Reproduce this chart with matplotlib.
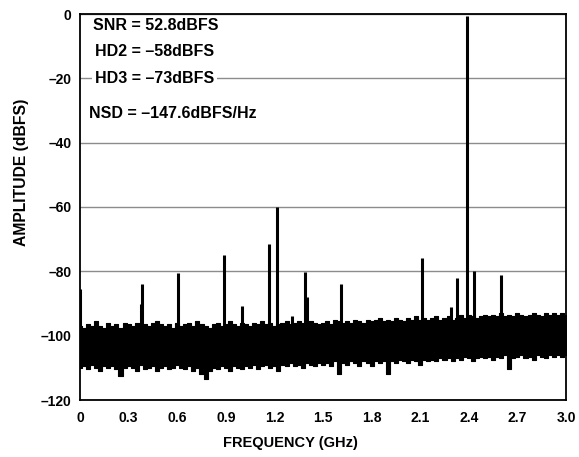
import matplotlib.pyplot as plt
import numpy as np
from matplotlib.ticker import FuncFormatter

# Noise floor envelopes, every 0.025 GHz (dBFS)
FREQ_STEP = 0.025
NOISE_TOP = [
    -97, -97.5, -96.5, -97, -95.5, -97, -97.5, -96, -97, -96.5,
    -97.5, -96, -96.5, -97, -96, -97.5, -96.5, -97, -96, -95.5,
    -96.5, -97, -96.5, -97.5, -96, -97, -96.5, -96, -97, -95.5,
    -96.5, -97, -97.5, -96.5, -96, -97, -96.5, -95.5, -96.5, -97,
    -96, -96.5, -97, -96, -96.5, -95.5, -96.5, -96, -97, -96.5,
    -96, -95.5, -96.5, -96, -95.5, -96, -96.5, -95.5, -96, -96.5,
    -96, -95.5, -96.5, -95, -95.5, -96, -95.5, -96, -95, -95.5,
    -96, -95, -95.5, -95, -94.5, -95.5, -95, -95.5, -94.5, -95,
    -95.5, -94.5, -95, -94, -95, -94.5, -95, -94.5, -94, -95,
    -94.5, -94, -95, -94.5, -93.5, -94.5, -93.5, -94, -94.5, -94,
    -93.5, -94, -93.5, -94, -93, -94, -93.5, -94, -93, -93.5,
    -94, -93.5, -93, -93.5, -94, -93, -93.5, -93, -93.5, -93,
    -93.5,
]
NOISE_BOTTOM = [
    -110, -109.5, -110.5, -109, -110, -111, -109.5, -110, -109.5, -110.5,
    -112.5, -110, -109.5, -110, -111, -109, -110.5, -110, -109.5, -111,
    -110, -109.5, -110.5, -110, -109, -110, -110.5, -109.5, -111, -110,
    -112, -113.5, -111, -110, -110.5, -109.5, -110, -111, -109.5, -110,
    -110.5, -109.5, -110, -109, -110.5, -109.5, -109, -110, -109.5, -111,
    -109, -109.5, -108.5, -109.5, -109, -110, -108.5, -109, -109.5, -108.5,
    -109, -108.5, -109.5, -108, -112, -108.5, -109, -108, -108.5, -109.5,
    -108, -108.5, -109.5, -108, -108.5, -108, -112, -108, -108.5, -107.5,
    -108, -108.5, -107.5, -108, -109, -107.5, -108, -107.5, -108, -107,
    -107.5, -107, -108, -107, -107.5, -106.5, -107, -108, -107, -106.5,
    -107, -106.5, -107.5, -106.5, -107, -106, -110.5, -107, -106.5, -106,
    -107, -106.5, -107.5, -106, -106.5, -107, -106, -106.5, -106, -106.5,
    -106,
]

# Spurs: frequency (GHz) and peak level (dBFS)
SPUR_FREQ = [0.003, 0.375, 0.383, 0.605, 0.889, 1.0, 1.167, 1.216, 1.31,
             1.39, 1.40, 1.61, 2.11, 2.29, 2.33, 2.39, 2.43, 2.60]
SPUR_LEVEL = [-85.5, -90, -84, -80.6, -75, -90.8, -71.5, -60, -94,
              -80.3, -88, -84, -75.8, -91, -82, -0.5, -80, -81]

NOTES = ["SNR = 52.8dBFS", "HD2 = \u201358dBFS", "HD3 = \u201373dBFS",
         "NSD = \u2013147.6dBFS/Hz"]
NOTE_X = [0.08, 0.093, 0.093, 0.055]
NOTE_Y = [-3.7, -11.8, -19.9, -30.8]

FONT = "Liberation Sans"

fig = plt.figure(figsize=(5.79, 4.57), dpi=100)
ax = fig.add_axes([80 / 579, 57 / 457, 486 / 579, 386 / 457])

freq = np.arange(len(NOISE_TOP)) * FREQ_STEP
ax.fill_between(freq, NOISE_BOTTOM, NOISE_TOP, step="mid",
                color="black", linewidth=0.8, edgecolor="black", zorder=3)
ax.vlines(SPUR_FREQ, -104, SPUR_LEVEL, color="black", linewidth=2.2, zorder=3)

for txt, x, y in zip(NOTES, NOTE_X, NOTE_Y):
    ax.text(x, y, txt, ha="left", va="center", fontsize=11.5,
            fontweight="bold", family=FONT, zorder=5,
            bbox=dict(facecolor="white", edgecolor="none", pad=2))

ax.set_xlim(0, 3.0)
ax.set_ylim(-120, 0)
ax.set_xticks(np.arange(0, 3.01, 0.3))
ax.set_yticks(np.arange(-120, 1, 20))
ax.xaxis.set_major_formatter(FuncFormatter(
    lambda v, p: "0" if abs(v) < 1e-9 else f"{v:.1f}"))
ax.yaxis.set_major_formatter(FuncFormatter(
    lambda v, p: f"{v:.0f}".replace("-", "\u2013")))
ax.yaxis.grid(True, color="#8c8c8c", linewidth=1.0, zorder=1)
ax.set_axisbelow(True)
ax.tick_params(length=0, labelsize=10)
ax.tick_params(axis="x", pad=8)
ax.tick_params(axis="y", pad=6)
for lab in ax.get_xticklabels() + ax.get_yticklabels():
    lab.set_fontweight("bold")
    lab.set_family(FONT)
for sp in ax.spines.values():
    sp.set_linewidth(1.3)
    sp.set_zorder(6)

fig.text(290 / 579, 1 - 443 / 457, "FREQUENCY (GHz)", ha="center",
         va="center", fontsize=10.5, fontweight="bold", family=FONT)
fig.text(22 / 579, 1 - 172 / 457, "AMPLITUDE (dBFS)", ha="center",
         va="center", rotation=90, fontsize=11.3, fontweight="bold",
         family=FONT)

fig.savefig("out.png", dpi=100)
